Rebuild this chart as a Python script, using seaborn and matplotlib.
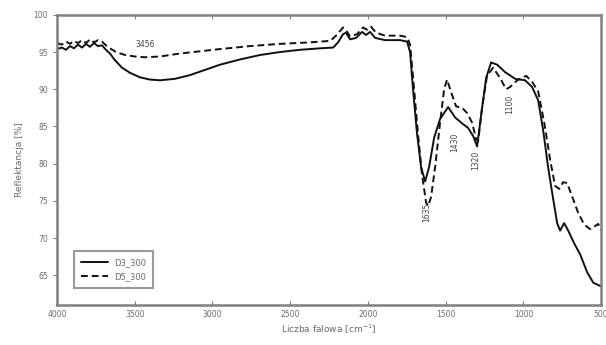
import numpy as np
import pandas as pd
import matplotlib
matplotlib.use("Agg")
import matplotlib.pyplot as plt
import seaborn as sns

# Wavenumbers [cm-1] and reflectance [%] for the two samples
wn_d3 = [4000, 3968, 3942, 3916, 3891, 3865, 3839, 3813, 3788, 3762, 3736, 3710,
         3685, 3659, 3627, 3582, 3530, 3466, 3402, 3337, 3241, 3144, 3048, 2951,
         2823, 2694, 2565, 2437, 2308, 2224, 2192, 2160, 2141, 2115, 2076, 2038,
         2012, 1986, 1954, 1890, 1793, 1748, 1729, 1710, 1684, 1658, 1632, 1607,
         1574, 1536, 1484, 1439, 1394, 1356, 1323, 1298, 1272, 1240, 1208, 1169,
         1118, 1053, 989, 944, 905, 873, 841, 809, 783, 764, 738, 712, 674, 635,
         590, 551, 500]
r_d3 = [95.4, 95.6, 95.3, 95.8, 95.5, 96.0, 95.6, 96.1, 95.7, 96.2, 95.8, 95.9,
        95.3, 94.8, 93.9, 92.9, 92.2, 91.6, 91.3, 91.2, 91.4, 91.9, 92.6, 93.3,
        94.0, 94.6, 95.0, 95.3, 95.5, 95.6, 96.3, 97.4, 97.6, 96.7, 96.9, 97.7,
        97.3, 97.7, 96.9, 96.6, 96.6, 96.4, 95.0, 90.0, 84.0, 79.5, 77.6, 79.5,
        83.5, 86.0, 87.6, 86.2, 85.4, 84.8, 83.7, 82.3, 86.5, 91.5, 93.6, 93.3,
        92.3, 91.4, 91.2, 90.3, 88.5, 84.5, 79.5, 75.3, 72.0, 71.0, 72.0, 71.0,
        69.3, 67.8, 65.4, 64.0, 63.5]

wn_d5 = [4000, 3968, 3942, 3916, 3891, 3865, 3839, 3813, 3788, 3762, 3736, 3710,
         3685, 3659, 3620, 3562, 3498, 3434, 3337, 3209, 3080, 2951, 2758, 2565,
         2372, 2243, 2205, 2160, 2141, 2115, 2070, 2032, 2006, 1980, 1948, 1890,
         1793, 1748, 1729, 1703, 1678, 1652, 1626, 1613, 1594, 1568, 1536, 1510,
         1491, 1465, 1433, 1394, 1362, 1330, 1304, 1291, 1266, 1234, 1195, 1150,
         1111, 1086, 1040, 982, 944, 905, 866, 828, 796, 770, 745, 719, 687, 648,
         609, 571, 539, 519, 500]
r_d5 = [96.2, 96.0, 96.4, 96.1, 96.5, 96.2, 96.6, 96.2, 96.7, 96.3, 96.6, 96.4,
        95.9, 95.5, 95.0, 94.6, 94.4, 94.3, 94.4, 94.8, 95.1, 95.4, 95.8, 96.1,
        96.3, 96.5, 97.2, 98.3, 97.9, 97.1, 97.4, 98.3, 98.0, 98.4, 97.6, 97.2,
        97.2, 97.0, 96.0, 90.0, 84.0, 78.5, 74.8, 74.3, 75.5, 79.5, 85.5, 90.0,
        91.3, 89.6, 87.7, 87.5, 86.8, 85.5, 83.3, 83.0, 87.5, 91.8, 92.9, 91.5,
        90.0, 90.3, 91.2, 91.8, 91.0, 89.7, 85.5, 80.5, 77.0, 76.6, 77.5, 77.4,
        75.6, 73.4, 71.8, 71.2, 71.6, 71.9, 71.1]

series_names = ["D3_300", "D5_300"]

# Band labels: text, wavenumber, reflectance, rotation
band_labels = ["3456", "1635", "1430", "1320", "1100"]
band_wn = [3434, 1620, 1439, 1304, 1085]
band_r = [96.0, 73.4, 82.8, 80.4, 88.0]
band_rot = [0, 90, 90, 90, 90]

df = pd.concat([
    pd.DataFrame({"wn": wn_d3, "R": r_d3, "sample": series_names[0]}),
    pd.DataFrame({"wn": wn_d5, "R": r_d5, "sample": series_names[1]}),
])

sns.set_style("ticks")
plt.rcParams["font.family"] = ["DejaVu Sans"]

grey = "#6a6a6a"
fig = plt.figure(figsize=(6.06, 3.45), dpi=100)
ax = fig.add_axes([0.094, 0.116, 0.898, 0.841])

sns.lineplot(data=df, x="wn", y="R", hue="sample", style="sample",
             palette=["#111111", "#111111"],
             dashes={series_names[0]: "", series_names[1]: (3.5, 2.0)},
             linewidth=1.4, sort=False, estimator=None, ax=ax)

ax.set_xlim(4000, 500)
ax.set_ylim(61, 100)
ax.set_xticks([4000, 3500, 3000, 2500, 2000, 1500, 1000, 500])
ax.set_yticks([65, 70, 75, 80, 85, 90, 95, 100])

for side in ["left", "right", "top", "bottom"]:
    ax.spines[side].set_visible(True)
    ax.spines[side].set_color("#808080")
    ax.spines[side].set_linewidth(1.8)

ax.tick_params(axis="both", colors="#808080", labelcolor=grey, labelsize=5.5,
               length=3, width=0.8)
ax.tick_params(axis="x", direction="in", top=True)
ax.tick_params(axis="y", direction="out")

ax.set_xlabel("Liczba falowa [cm$^{-1}$]", fontsize=6.5, color=grey, labelpad=3)
ax.set_ylabel("Reflektancja [%]", fontsize=6.5, color=grey, labelpad=7)

for txt, x, y, rot in zip(band_labels, band_wn, band_r, band_rot):
    ax.text(x, y, txt, rotation=rot, ha="center", va="center",
            fontsize=5.5, color="#444444")

leg = ax.legend(loc="lower left", bbox_to_anchor=(0.024, 0.045),
                fontsize=6, frameon=True, fancybox=False,
                handlelength=3.2, borderpad=0.8, labelspacing=0.6,
                title=None)
leg.get_frame().set_edgecolor("#808080")
leg.get_frame().set_linewidth(1.5)
for t in leg.get_texts():
    t.set_color(grey)

fig.savefig("out.png", dpi=100)
